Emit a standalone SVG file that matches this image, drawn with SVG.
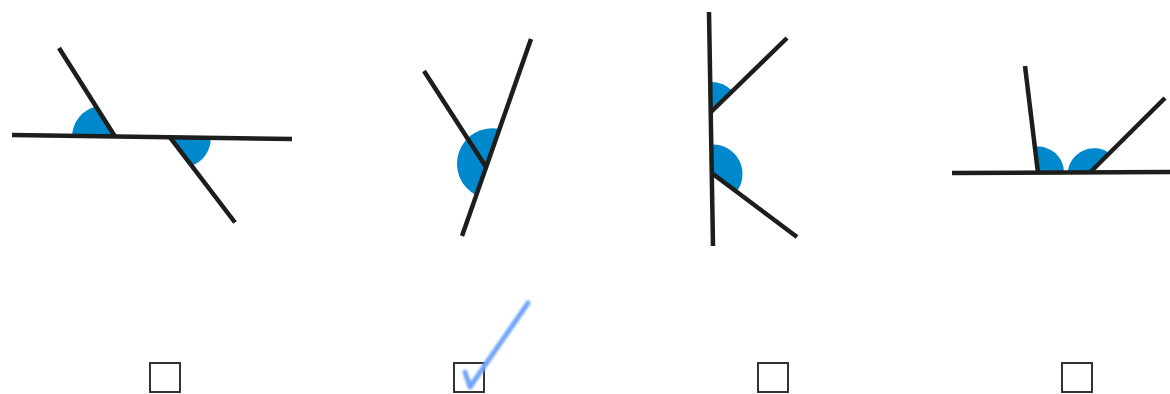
<svg xmlns="http://www.w3.org/2000/svg" width="1170" height="394" viewBox="0 0 1170 394">
<defs>
<style>
.ln{stroke:#1d1d1b;stroke-width:4.5;fill:none;stroke-linecap:butt}
.ang{fill:#0088cc;stroke:none}
.box{fill:#ffffff;stroke:#333333;stroke-width:2}
.tick{fill:none;stroke:#72a5f7;stroke-width:5;stroke-linecap:round;stroke-linejoin:round}
</style>
<filter id="soft" x="-10%" y="-10%" width="120%" height="120%">
<feGaussianBlur stdDeviation="0.9"/>
</filter>
</defs>
<rect width="1170" height="394" fill="#ffffff"/>
<g id="figure1">
<path class="ang" d="M115,136.5 L72,136.5 A31.5,31.5 0 0 1 96,106.6 Z"/>
<path class="ang" d="M170,137.3 L210.7,138 A28.7,28.7 0 0 1 191.6,165.6 Z"/>
<line class="ln" x1="12" y1="135" x2="292" y2="139"/>
<line class="ln" x1="59" y1="48" x2="115" y2="136.5"/>
<line class="ln" x1="170" y1="137.3" x2="235" y2="222.5"/>
</g>
<g id="figure2">
<path class="ang" d="M499.5,128.9 A35.5,35.5 0 0 0 476.3,195.3 Z"/>
<line class="ln" x1="531" y1="39" x2="462" y2="236"/>
<line class="ln" x1="424" y1="71" x2="486" y2="167"/>
</g>
<g id="figure3">
<path class="ang" d="M711,112 L710.2,82 A30,30 0 0 1 732.5,91.1 Z"/>
<path class="ang" d="M713,174 L712.5,144.5 A29.5,29.5 0 0 1 736.6,191.7 Z"/>
<line class="ln" x1="709" y1="12" x2="713" y2="246"/>
<line class="ln" x1="711" y1="112" x2="787" y2="38"/>
<line class="ln" x1="713" y1="174" x2="797" y2="237"/>
</g>
<g id="figure4">
<path class="ang" d="M1038,172.5 L1034.9,146.7 A26,26 0 0 1 1064,172.5 Z"/>
<path class="ang" d="M1090,172.5 L1067.8,172.5 A26.3,26.3 0 0 1 1109.4,153.2 Z"/>
<line class="ln" x1="952" y1="173" x2="1170" y2="172"/>
<line class="ln" x1="1025" y1="66" x2="1038" y2="173"/>
<line class="ln" x1="1090" y1="172.5" x2="1165" y2="98"/>
</g>
<g id="checkboxes">
<rect id="box1" class="box" x="150" y="363" width="30" height="29"/>
<rect id="box2" class="box" x="454" y="363" width="30" height="29"/>
<rect id="box3" class="box" x="758" y="363" width="30" height="29"/>
<rect id="box4" class="box" x="1062" y="363" width="30" height="29"/>
</g>
<g id="checkmark">
<path class="tick" filter="url(#soft)" d="M465,372 L470,387 L528,303"/>
</g>
</svg>
